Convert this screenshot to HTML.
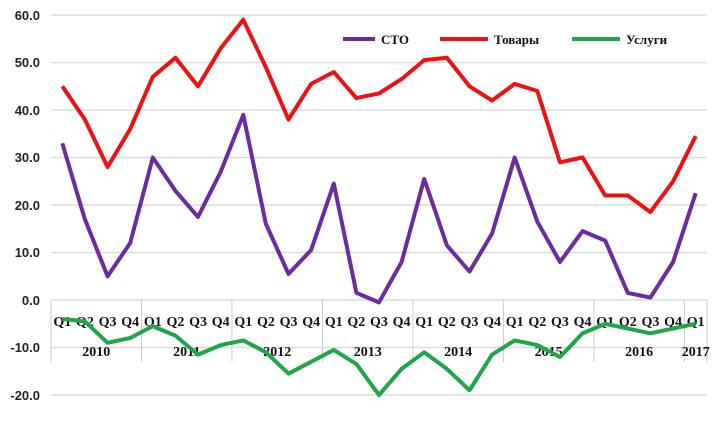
<!DOCTYPE html>
<html><head><meta charset="utf-8"><style>
html,body{margin:0;padding:0;background:#fff;width:720px;height:423px;overflow:hidden}
svg{display:block}
text{font-family:"Liberation Serif",serif;font-weight:bold;fill:#111}
.y{font-family:"Liberation Sans",sans-serif;font-size:13px;font-weight:bold;fill:#222}
</style></head><body>
<svg id="s" width="720" height="423" xmlns="http://www.w3.org/2000/svg">
<g stroke="#ddd" stroke-width="1.5">
<line x1="51" y1="15" x2="707" y2="15"/><line x1="51" y1="62.5" x2="707" y2="62.5"/>
<line x1="51" y1="110" x2="707" y2="110"/><line x1="51" y1="157.5" x2="707" y2="157.5"/>
<line x1="51" y1="205" x2="707" y2="205"/><line x1="51" y1="252.5" x2="707" y2="252.5"/>
<line x1="51" y1="300" x2="707" y2="300"/><line x1="51" y1="347.5" x2="707" y2="347.5"/>
<line x1="51" y1="395" x2="707" y2="395"/>
</g>
<g text-anchor="end">
<text class="y" x="40" y="20">60.0</text><text class="y" x="40" y="67">50.0</text>
<text class="y" x="40" y="115">40.0</text><text class="y" x="40" y="162">30.0</text>
<text class="y" x="40" y="210">20.0</text><text class="y" x="40" y="257">10.0</text>
<text class="y" x="40" y="305">0.0</text><text class="y" x="40" y="352">-10.0</text>
<text class="y" x="40" y="400">-20.0</text>
</g>
<g id="sep" stroke="#ccc" stroke-width="1"></g>
<g id="lab"></g>
<polyline id="u" fill="none" stroke="#1fa64a" stroke-width="4" stroke-linejoin="round"/>
<polyline id="t" fill="none" stroke="#ee1111" stroke-width="4" stroke-linejoin="round"/>
<polyline id="c" fill="none" stroke="#6a2c9e" stroke-width="4" stroke-linejoin="round"/>
<line x1="343" y1="39" x2="375" y2="39" stroke="#6a2c9e" stroke-width="4"/>
<text x="381" y="44" font-size="13" font-family="Liberation Sans">СТО</text>
<line x1="440" y1="39" x2="488" y2="39" stroke="#ee1111" stroke-width="4"/>
<text x="494" y="44" font-size="13" font-family="Liberation Sans">Товары</text>
<line x1="572" y1="39" x2="620" y2="39" stroke="#1fa64a" stroke-width="4"/>
<text x="626" y="44" font-size="13" font-family="Liberation Sans">Услуги</text>
</svg>
<script>
var c=[33,17,5,12,30,23,17.5,27,39,16,5.5,10.5,24.5,1.5,-0.5,8,25.5,11.5,6,14,30,16.5,8,14.5,12.5,1.5,0.5,8,22.5];
var t=[45,38,28,36,47,51,45,53,59,49,38,45.5,48,42.5,43.5,46.5,50.5,51,45,42,45.5,44,29,30,22,22,18.5,25,34.5];
var u=[-4,-4.5,-9,-8,-5.5,-7.5,-11.5,-9.5,-8.5,-11,-15.5,-13,-10.5,-13.5,-20,-14.5,-11,-14.5,-19,-11.5,-8.5,-9.5,-12,-7,-5,-6,-7,-6,-5];
var w=656/29;function X(i){return 51+w*(i+0.5)}function Y(v){return 300-v*4.75}
function p(a){return a.map(function(v,i){return X(i).toFixed(1)+","+Y(v).toFixed(1)}).join(" ")}
document.getElementById("c").setAttribute("points",p(c));
document.getElementById("t").setAttribute("points",p(t));
document.getElementById("u").setAttribute("points",p(u));
var ns="http://www.w3.org/2000/svg",sep=document.getElementById("sep"),lab=document.getElementById("lab");
for(var k=0;k<=8;k++){var x=k<8?51+w*4*k:707;var l=document.createElementNS(ns,"line");
l.setAttribute("x1",x);l.setAttribute("x2",x);l.setAttribute("y1",300);l.setAttribute("y2",362);sep.appendChild(l);}
for(var i=0;i<29;i++){var e=document.createElementNS(ns,"text");e.setAttribute("x",X(i));e.setAttribute("y",326);
e.setAttribute("text-anchor","middle");e.setAttribute("font-size","14");e.textContent="Q"+(i%4+1);lab.appendChild(e);}
for(var y=0;y<8;y++){var e=document.createElementNS(ns,"text");var xc=y<7?51+w*(4*y+2):X(28);
e.setAttribute("x",xc);e.setAttribute("y",356);e.setAttribute("text-anchor","middle");e.setAttribute("font-size","14");
e.textContent=2010+y;lab.appendChild(e);}
</script>
</body></html>
